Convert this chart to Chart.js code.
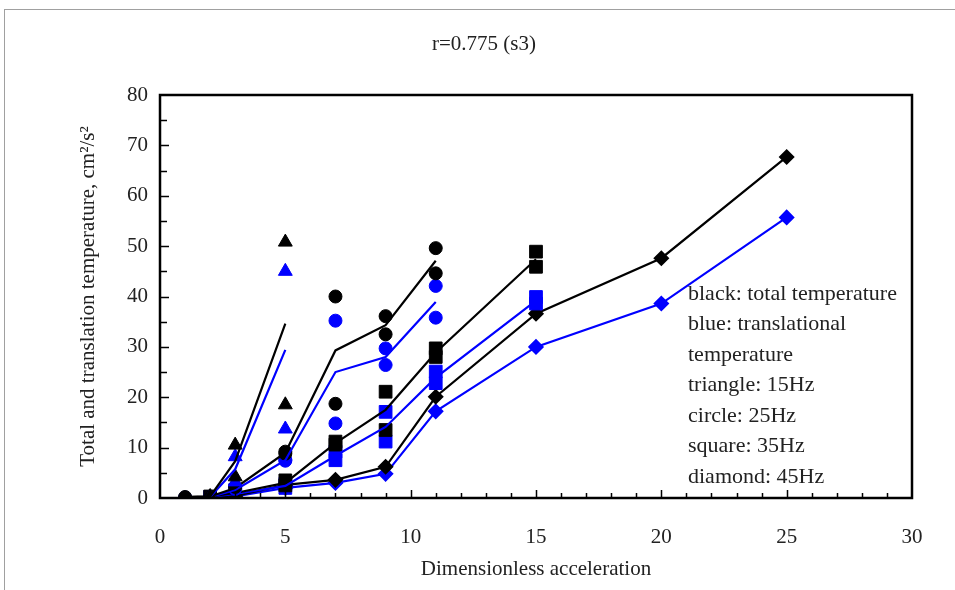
<!DOCTYPE html>
<html>
<head>
<meta charset="utf-8">
<script src="https://cdn.jsdelivr.net/npm/chart.js@4"></script>
<style>
  html, body { margin: 0; padding: 0; background: #fff; }
  canvas { display: block; }
</style>
</head>
<body>
<canvas id="chart" width="955" height="590"></canvas>
<script>
// 15Hz (triangle)
const tri15LineX = [1, 2, 3, 5];
const tri15TotalLine = [0.2, 0.3, 7.3, 34.6];
const tri15TransLine = [0.1, 0.2, 5.7, 29.4];
const tri15PtsX = [2, 3, 3, 5, 5];
const tri15TotalPts = [0.3, 10.5, 4.2, 50.8, 18.5];
const tri15TransPts = [0.2, 8.2, 3.2, 45.0, 13.7];

// 25Hz (circle)
const cir25LineX = [1, 2, 3, 5, 7, 9, 11];
const cir25TotalLine = [0.2, 0.3, 2.0, 9.0, 29.3, 34.3, 47.1];
const cir25TransLine = [0.1, 0.2, 1.6, 7.5, 25.0, 28.0, 38.9];
const cir25PtsX = [1, 2, 3, 5, 5, 7, 7, 9, 9, 11, 11];
const cir25TotalPts = [0.2, 0.3, 2.2, 9.2, 8.8, 40.0, 18.7, 36.1, 32.5, 49.6, 44.6];
const cir25TransPts = [0.1, 0.2, 1.8, 7.6, 7.4, 35.2, 14.8, 29.7, 26.4, 42.1, 35.8];

// 35Hz (square)
const sq35LineX = [1, 2, 3, 5, 7, 9, 11, 15];
const sq35TotalLine = [0.2, 0.3, 1.0, 3.0, 10.9, 17.5, 28.9, 47.4];
const sq35TransLine = [0.1, 0.2, 0.8, 2.4, 8.4, 14.1, 23.9, 39.2];
const sq35PtsX = [2, 3, 5, 5, 7, 7, 9, 9, 11, 11, 15, 15];
const sq35TotalPts = [0.3, 1.2, 3.5, 2.5, 11.2, 10.6, 21.1, 13.5, 29.7, 28.0, 48.9, 45.9];
const sq35TransPts = [0.2, 1.6, 2.8, 2.0, 9.2, 7.5, 17.1, 11.2, 25.1, 22.8, 39.9, 38.6];

// 45Hz (diamond)
const dia45X = [2, 3, 5, 7, 9, 11, 15, 20, 25];
const dia45Total = [0.2, 0.4, 2.6, 3.6, 6.2, 20.1, 36.6, 47.6, 67.7];
const dia45Trans = [0.1, 0.3, 2.0, 3.0, 4.8, 17.2, 30.0, 38.6, 55.7];

const noteLines = [
  "black: total temperature",
  "blue: translational",
  "temperature",
  "triangle: 15Hz",
  "circle: 25Hz",
  "square: 35Hz",
  "diamond: 45Hz"
];

const BLACK = "#000000";
const BLUE = "#0000FF";
const FONT = "'Liberation Serif', 'Times New Roman', serif";

function pts(xs, ys) {
  return xs.map((x, i) => ({ x, y: ys[i] }));
}

function lineSet(label, xs, ys, color) {
  return {
    label, data: pts(xs, ys), showLine: true,
    borderColor: color, borderWidth: 2.2, pointRadius: 0, pointHoverRadius: 0
  };
}

function markSet(label, xs, ys, color, style, radius) {
  return {
    label, data: pts(xs, ys), showLine: false,
    pointStyle: style, pointRadius: radius, pointHoverRadius: radius,
    backgroundColor: color, borderColor: color, borderWidth: 1
  };
}

const frame = {
  id: "frame",
  beforeDraw(chart) {
    const ctx = chart.ctx;
    ctx.save();
    ctx.strokeStyle = "#a0a0a0";
    ctx.lineWidth = 1;
    ctx.strokeRect(4.5, 9.5, 1000, 1000);
    ctx.restore();
  },
  afterDraw(chart) {
    const { ctx, chartArea: a, scales: { x, y } } = chart;
    ctx.save();
    ctx.strokeStyle = "#000";
    ctx.lineWidth = 2.5;
    ctx.strokeRect(a.left, a.top, a.right - a.left, a.bottom - a.top);
    ctx.lineWidth = 1.5;
    ctx.beginPath();
    for (let v = 1; v < 30; v++) {
      const px = Math.round(x.getPixelForValue(v)) + 0.5;
      const len = v % 5 === 0 ? 8 : 5;
      ctx.moveTo(px, a.bottom);
      ctx.lineTo(px, a.bottom - len);
    }
    for (let v = 5; v < 80; v += 5) {
      const py = Math.round(y.getPixelForValue(v)) + 0.5;
      const len = v % 10 === 0 ? 9 : 7;
      ctx.moveTo(a.left, py);
      ctx.lineTo(a.left + len, py);
    }
    ctx.stroke();

    ctx.fillStyle = "#222";
    ctx.font = "21px " + FONT;
    ctx.textAlign = "center";
    ctx.textBaseline = "middle";
    ctx.fillText("r=0.775 (s3)", 484, 44);

    ctx.font = "22px " + FONT;
    ctx.textAlign = "left";
    noteLines.forEach((t, i) => ctx.fillText(t, 688, 294 + i * 30.5));
    ctx.restore();
  }
};

new Chart(document.getElementById("chart"), {
  type: "scatter",
  plugins: [frame],
  data: {
    datasets: [
      lineSet("15Hz total", tri15LineX, tri15TotalLine, BLACK),
      lineSet("15Hz trans", tri15LineX, tri15TransLine, BLUE),
      markSet("15Hz total pts", tri15PtsX, tri15TotalPts, BLACK, "triangle", 8),
      markSet("15Hz trans pts", tri15PtsX, tri15TransPts, BLUE, "triangle", 8),
      lineSet("25Hz total", cir25LineX, cir25TotalLine, BLACK),
      lineSet("25Hz trans", cir25LineX, cir25TransLine, BLUE),
      markSet("25Hz total pts", cir25PtsX, cir25TotalPts, BLACK, "circle", 6.5),
      markSet("25Hz trans pts", cir25PtsX, cir25TransPts, BLUE, "circle", 6.5),
      lineSet("35Hz total", sq35LineX, sq35TotalLine, BLACK),
      lineSet("35Hz trans", sq35LineX, sq35TransLine, BLUE),
      markSet("35Hz total pts", sq35PtsX, sq35TotalPts, BLACK, "rect", 9),
      markSet("35Hz trans pts", sq35PtsX, sq35TransPts, BLUE, "rect", 9),
      Object.assign(markSet("45Hz total", dia45X, dia45Total, BLACK, "rectRot", 6.5), { showLine: true, borderWidth: 2.2 }),
      Object.assign(markSet("45Hz trans", dia45X, dia45Trans, BLUE, "rectRot", 6.5), { showLine: true, borderWidth: 2.2 })
    ]
  },
  options: {
    responsive: false,
    animation: false,
    layout: { padding: { left: 0, right: 43, top: 95, bottom: 0 } },
    plugins: { legend: { display: false }, tooltip: { enabled: false } },
    scales: {
      x: {
        type: "linear", min: 0, max: 30,
        grid: { display: false, drawTicks: false },
        border: { display: false },
        ticks: { stepSize: 5, padding: 27, color: "#222", font: { family: FONT, size: 21 } },
        title: { display: true, text: "Dimensionless acceleration", color: "#222",
                 font: { family: FONT, size: 21 }, padding: { top: 0, bottom: 8 } },
        afterFit(s) { s.height = 92; }
      },
      y: {
        type: "linear", min: 0, max: 80,
        grid: { display: false, drawTicks: false },
        border: { display: false },
        ticks: { stepSize: 10, padding: 12, color: "#222", font: { family: FONT, size: 21 } },
        title: { display: true, text: "Total and translation temperature, cm\u00B2/s\u00B2", color: "#222",
                 font: { family: FONT, size: 21 }, padding: { top: 76, bottom: 0 } },
        afterFit(s) { s.width = 160; }
      }
    }
  }
});
</script>
</body>
</html>
